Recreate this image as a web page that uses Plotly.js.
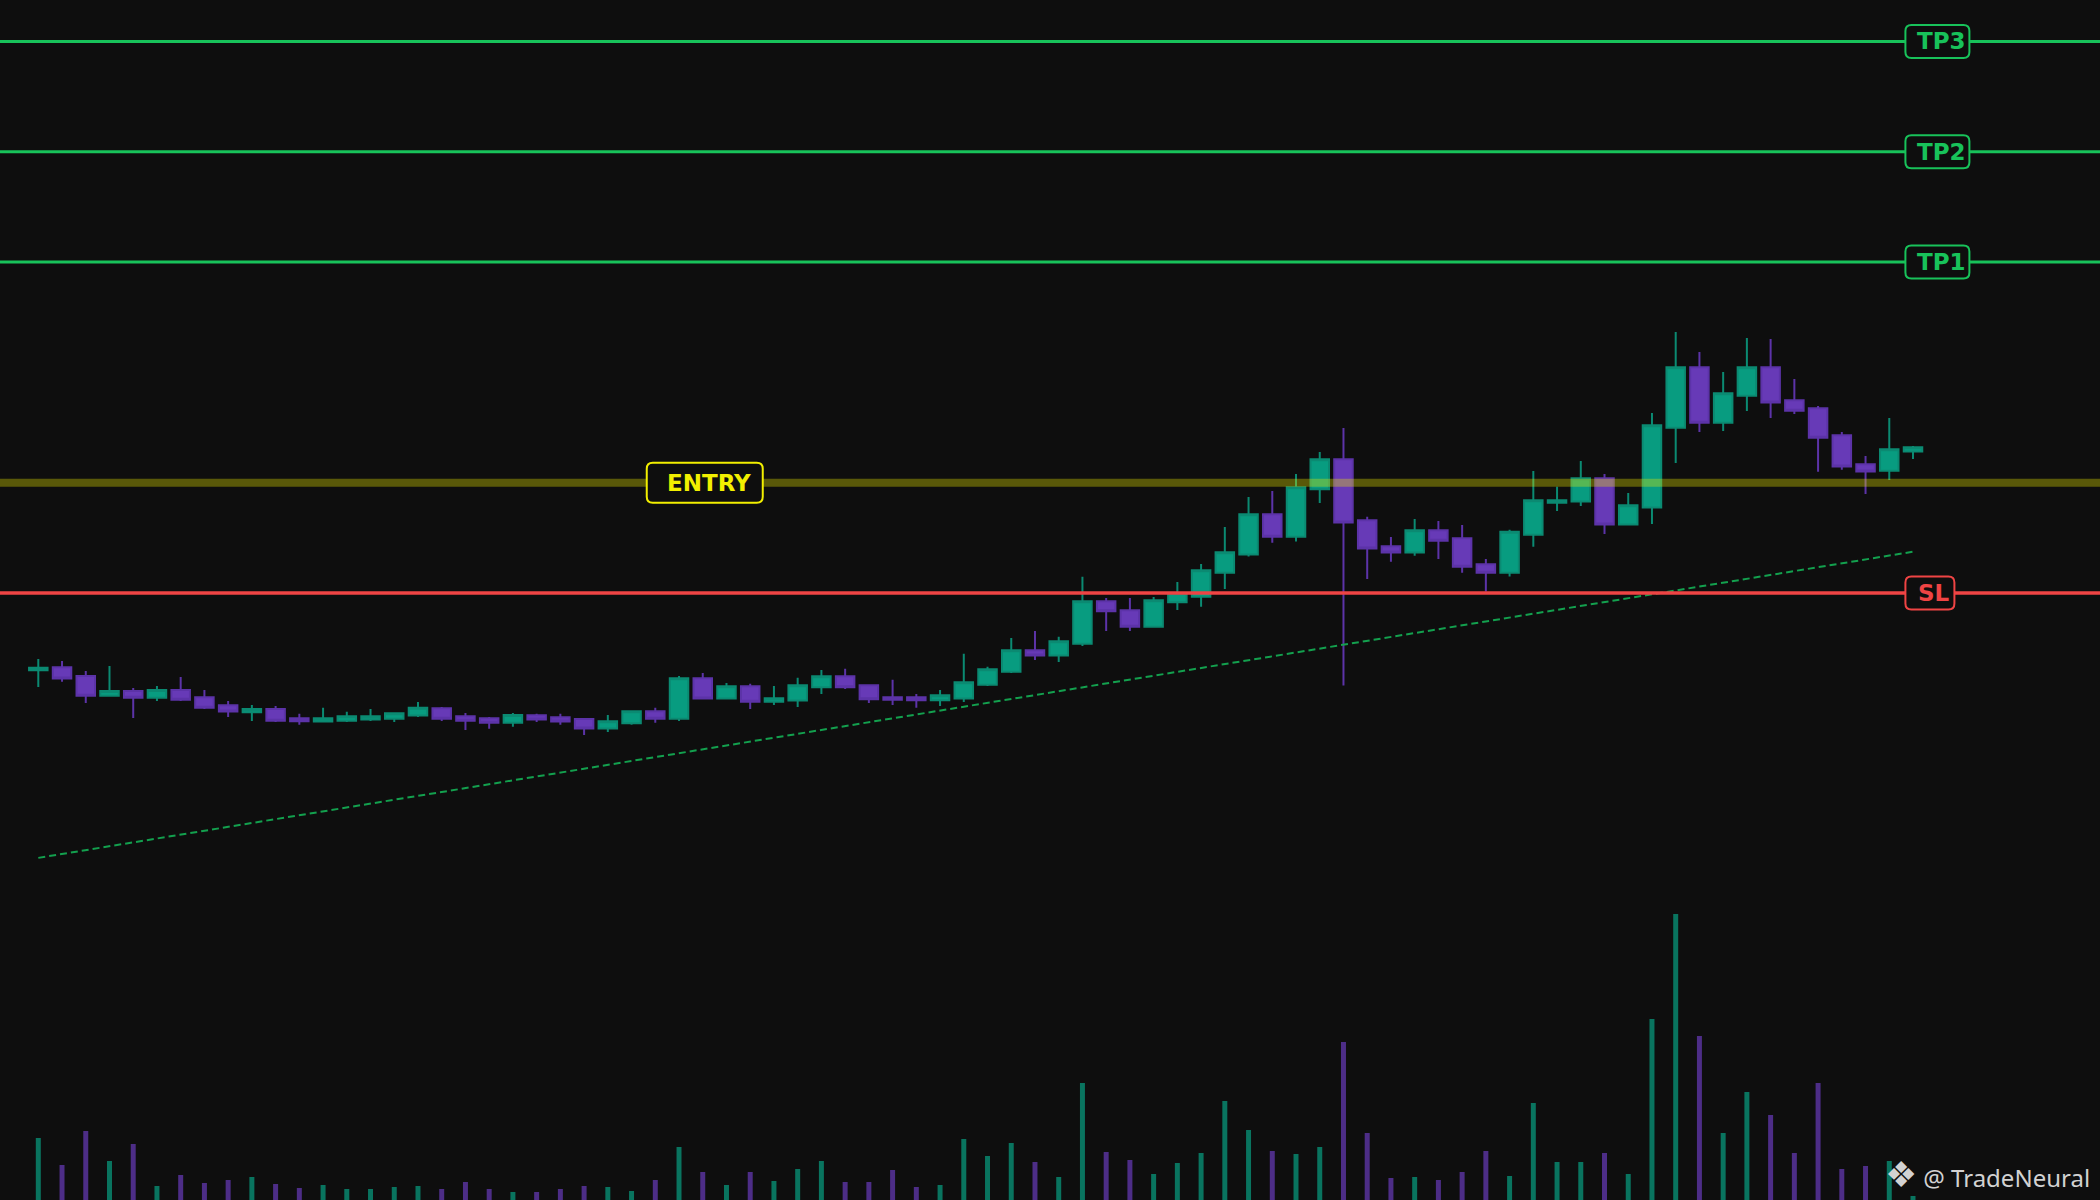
<!DOCTYPE html>
<html>
<head>
<meta charset="utf-8">
<script src="https://cdn.plot.ly/plotly-3.0.1.min.js"></script>
<style>
  html, body { margin: 0; padding: 0; background: #0e0e0e; }
  #chart { width: 2100px; height: 1200px; }
</style>
</head>
<body>
<div id="chart"></div>
<script>
const openPrices = [91.50, 91.63, 91.24, 90.34, 90.56, 90.25, 90.60, 90.27, 89.91, 89.59,
  89.74, 89.32, 89.17, 89.21, 89.26, 89.30, 89.44, 89.77, 89.41, 89.32,
  89.12, 89.46, 89.37, 89.28, 88.85, 89.09, 89.64, 89.30, 91.13, 90.21,
  90.77, 90.07, 90.12, 90.73, 91.22, 90.82, 90.27, 90.27, 90.14, 90.21,
  90.84, 91.43, 92.40, 92.16, 92.70, 94.62, 94.22, 93.47, 94.58, 94.83,
  95.92, 96.74, 98.57, 97.55, 99.70, 101.06, 98.30, 97.12, 96.83, 97.84,
  97.48, 96.30, 95.92, 97.64, 99.09, 99.14, 100.20, 98.10, 98.87, 102.49,
  105.23, 102.72, 103.94, 105.23, 103.74, 103.37, 102.15, 100.83, 100.54, 101.41];
const highPrices = [92.01, 91.92, 91.46, 91.69, 90.69, 90.78, 91.19, 90.60, 90.10, 89.92,
  89.88, 89.52, 89.79, 89.61, 89.74, 89.55, 90.06, 89.83, 89.56, 89.38,
  89.56, 89.52, 89.52, 89.30, 89.47, 89.66, 89.79, 91.24, 91.37, 90.92,
  90.88, 90.78, 91.15, 91.51, 91.56, 90.84, 91.06, 90.42, 90.60, 92.24,
  91.65, 92.96, 93.28, 93.01, 95.73, 94.77, 94.77, 94.82, 95.50, 96.31,
  97.99, 99.35, 99.62, 100.39, 101.39, 102.48, 98.45, 97.54, 98.35, 98.26,
  98.08, 96.54, 97.86, 100.53, 99.81, 100.98, 100.39, 99.53, 103.16, 106.83,
  105.92, 105.02, 106.56, 106.51, 104.70, 103.48, 102.30, 101.21, 102.93, 101.66];
const lowPrices = [90.74, 90.97, 90.01, 90.29, 89.33, 90.10, 90.10, 89.74, 89.38, 89.20,
  89.15, 89.02, 89.15, 89.15, 89.20, 89.15, 89.38, 89.20, 88.79, 88.84,
  88.93, 89.15, 89.02, 88.56, 88.70, 89.02, 89.11, 89.20, 90.19, 90.20,
  89.74, 89.92, 89.83, 90.42, 90.65, 90.01, 89.92, 89.79, 89.88, 90.06,
  90.78, 91.37, 91.96, 91.87, 92.60, 93.28, 93.28, 93.45, 94.23, 94.37,
  95.18, 96.65, 97.27, 97.33, 99.08, 90.80, 95.63, 96.41, 96.69, 96.54,
  95.91, 95.06, 95.74, 97.09, 98.72, 98.94, 97.67, 98.08, 98.13, 100.89,
  102.30, 102.34, 103.25, 102.93, 103.11, 100.49, 100.58, 99.49, 100.12, 101.07];
const closePrices = [91.61, 91.12, 90.34, 90.56, 90.25, 90.60, 90.16, 89.80, 89.62, 89.74,
  89.21, 89.18, 89.32, 89.41, 89.41, 89.55, 89.79, 89.30, 89.21, 89.12,
  89.47, 89.26, 89.17, 88.85, 89.18, 89.64, 89.30, 91.13, 90.21, 90.77,
  90.07, 90.23, 90.82, 91.22, 90.73, 90.18, 90.16, 90.14, 90.36, 90.95,
  91.54, 92.40, 92.16, 92.81, 94.62, 94.17, 93.47, 94.67, 95.00, 96.03,
  96.85, 98.57, 97.55, 99.79, 101.06, 98.19, 97.01, 96.83, 97.84, 97.37,
  96.19, 95.92, 97.77, 99.20, 99.20, 100.20, 98.10, 98.98, 102.60, 105.23,
  102.72, 104.05, 105.23, 103.63, 103.26, 102.04, 100.73, 100.50, 101.51, 101.60];
const volumes = [6200, 3500, 6900, 3900, 5600, 1400, 2500, 1700, 2000, 2300,
  1600, 1200, 1500, 1100, 1100, 1300, 1400, 1100, 1800, 1100,
  800, 800, 1100, 1400, 1300, 900, 2000, 5300, 2800, 1500,
  2800, 1900, 3100, 3900, 1800, 1800, 3000, 1300, 1500, 6100,
  4400, 5700, 3800, 2300, 11700, 4800, 4000, 2600, 3700, 4700,
  9900, 7000, 4900, 4600, 5300, 15800, 6700, 2200, 2300, 2000,
  2800, 4900, 2400, 9700, 3800, 3800, 4700, 2600, 18100, 28600,
  16400, 6700, 10800, 8500, 4700, 11700, 3100, 3400, 3900, 400];

// trade levels
const levelNames = ['TP3', 'TP2', 'TP1', 'ENTRY', 'SL'];
const levelPrices = [120, 115, 110, 100, 95];

// trend line end points (bar index, price)
const trendX = [0, 79];
const trendY = [82.99, 96.87];

const upColor = '#089c80';
const upLine = '#0b8a72';
const downColor = '#673ab7';
const downLine = '#5c33a8';
const bgColor = '#0e0e0e';

const barIndex = openPrices.map((v, i) => i);

function volumeColors() {
  return closePrices.map((c, i) => c >= openPrices[i] ? 'rgba(8,156,128,0.72)' : 'rgba(103,58,183,0.72)');
}

function levelShape(price, color, width, opacity) {
  return {
    type: 'line', xref: 'paper', yref: 'y',
    x0: 0, x1: 1, y0: price, y1: price,
    line: { color: color, width: width },
    opacity: opacity,
    layer: 'above'
  };
}

// rounded box (pixel sized) anchored at left edge / level price
function roundedBox(x, price, color, w, h) {
  var r = 6, x0 = 0, x1 = w, y0 = -h / 2, y1 = h / 2;
  var path = 'M' + (x0 + r) + ',' + y0 + ' L' + (x1 - r) + ',' + y0 +
    ' Q' + x1 + ',' + y0 + ' ' + x1 + ',' + (y0 + r) +
    ' L' + x1 + ',' + (y1 - r) + ' Q' + x1 + ',' + y1 + ' ' + (x1 - r) + ',' + y1 +
    ' L' + (x0 + r) + ',' + y1 + ' Q' + x0 + ',' + y1 + ' ' + x0 + ',' + (y1 - r) +
    ' L' + x0 + ',' + (y0 + r) + ' Q' + x0 + ',' + y0 + ' ' + (x0 + r) + ',' + y0 + ' Z';
  return {
    type: 'path', xref: 'x', yref: 'y',
    xsizemode: 'pixel', ysizemode: 'pixel',
    xanchor: x, yanchor: price,
    path: path,
    fillcolor: bgColor,
    line: { color: color, width: 2 },
    layer: 'above'
  };
}

function levelLabel(name, price, color, x, w) {
  return {
    x: x, y: price, xref: 'x', yref: 'y',
    xanchor: 'center', yanchor: 'middle',
    xshift: w / 2 + 4,
    text: name,
    showarrow: false,
    font: { family: 'DejaVu Sans', size: 23, color: color, weight: 'bold' }
  };
}

function plot() {
  var volumeTrace = {
    x: barIndex,
    y: volumes,
    type: 'bar',
    yaxis: 'y2',
    marker: { color: volumeColors(), line: { width: 0 } },
    hoverinfo: 'skip'
  };

  var candleTrace = {
    x: barIndex,
    open: openPrices,
    high: highPrices,
    low: lowPrices,
    close: closePrices,
    type: 'candlestick',
    increasing: { line: { color: upLine, width: 2 }, fillcolor: upColor },
    decreasing: { line: { color: downLine, width: 2 }, fillcolor: downColor },
    hoverinfo: 'skip'
  };

  var trendTrace = {
    x: trendX,
    y: trendY,
    mode: 'lines',
    type: 'scatter',
    line: { color: '#13a04e', width: 2, dash: '7px,4px' },
    hoverinfo: 'skip'
  };

  var tpColor = '#18c25a';
  var slColor = '#ef4444';
  var entryColor = '#f2ef00';
  var tpX = 78.68;
  var entryX = 25.64;

  var shapes = [
    levelShape(levelPrices[0], tpColor, 3, 1),
    levelShape(levelPrices[1], tpColor, 3, 1),
    levelShape(levelPrices[2], tpColor, 3, 1),
    levelShape(levelPrices[3], entryColor, 8, 0.33),
    levelShape(levelPrices[4], slColor, 3.5, 1),
    roundedBox(tpX, levelPrices[0], tpColor, 64, 33),
    roundedBox(tpX, levelPrices[1], tpColor, 64, 33),
    roundedBox(tpX, levelPrices[2], tpColor, 64, 33),
    roundedBox(entryX, levelPrices[3], entryColor, 116, 40),
    roundedBox(tpX, levelPrices[4], slColor, 49, 33)
  ];

  var annotations = [
    levelLabel(levelNames[0], levelPrices[0], tpColor, tpX, 64),
    levelLabel(levelNames[1], levelPrices[1], tpColor, tpX, 64),
    levelLabel(levelNames[2], levelPrices[2], tpColor, tpX, 64),
    levelLabel(levelNames[3], levelPrices[3], entryColor, entryX, 116),
    levelLabel(levelNames[4], levelPrices[4], slColor, tpX, 49),
    {
      xref: 'paper', yref: 'paper', x: 0.9962, y: 0.022,
      xanchor: 'right', yanchor: 'middle',
      text: '<span style="font-size:36px">\u2756</span> @ TradeNeural',
      showarrow: false,
      font: { family: 'Noto Sans', size: 24, color: '#d2d2d2' }
    }
  ];

  var layout = {
    width: 2100,
    height: 1200,
    margin: { l: 0, r: 0, t: 0, b: 0, pad: 0 },
    paper_bgcolor: bgColor,
    plot_bgcolor: bgColor,
    showlegend: false,
    hovermode: false,
    bargap: 0.79,
    boxgap: 0.22,
    boxgroupgap: 0,
    xaxis: {
      range: [-1.614, 86.88],
      visible: false,
      showgrid: false,
      zeroline: false,
      rangeslider: { visible: false }
    },
    yaxis: {
      range: [67.48, 121.88],
      visible: false,
      showgrid: false,
      zeroline: false
    },
    yaxis2: {
      range: [0, 120000],
      overlaying: 'y',
      visible: false,
      showgrid: false,
      zeroline: false
    },
    shapes: shapes,
    annotations: annotations
  };

  Plotly.newPlot('chart', [volumeTrace, candleTrace, trendTrace], layout, { displayModeBar: false, staticPlot: true });
}

plot();
</script>
</body>
</html>
